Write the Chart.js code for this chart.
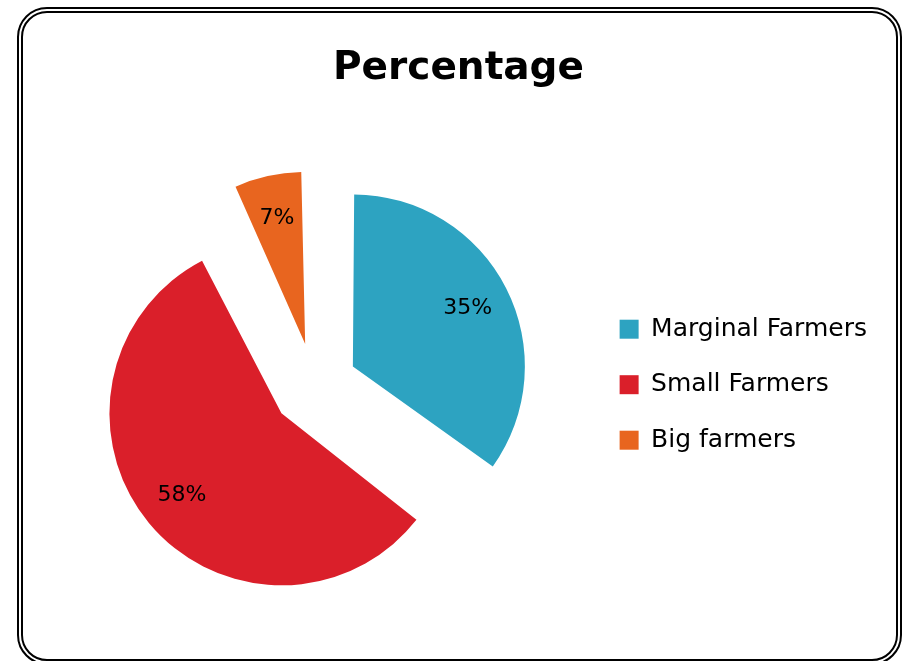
<!DOCTYPE html>
<html>
<head>
<meta charset="utf-8">
<script src="https://cdn.jsdelivr.net/npm/chart.js@4.4.0/dist/chart.umd.min.js"></script>
<style>
  html, body { margin: 0; padding: 0; background: #fff; }
  #wrap { position: relative; width: 904px; height: 661px; overflow: hidden; }
  #frame {
    position: absolute; left: 17px; top: 7px; width: 885px; height: 658px;
    box-sizing: border-box; border: 6px double #000; border-radius: 30px;
  }
  #box { position: absolute; left: 0; top: 0; width: 904px; height: 661px; }
</style>
</head>
<body>
<div id="wrap">
  <div id="frame"></div>
  <div id="box"><canvas id="chart-pie"></canvas></div>
</div>
<script>
var categories = ["Marginal Farmers", "Small Farmers", "Big farmers"];
var shares = [35, 58, 7];
var sliceColors = ["#2DA3C1", "#DA1F2A", "#E8651F"];

var RADIUS = 172;
var GAP = 43; // how far every slice is pulled out from the centre

// chart.js moves an arc by offset/4 but also grows its radius by offset/4 * fix,
// so take that growth back off before drawing
var keepRadius = {
  id: "keepRadius",
  beforeDatasetsDraw: function(chart) {
    chart.getDatasetMeta(0).data.forEach(function(arc) {
      var circ = arc.endAngle - arc.startAngle;
      var fix = 1 - Math.sin(Math.min(Math.PI, circ));
      arc.outerRadius = RADIUS - GAP * fix;
    });
  }
};

// percentage text drawn on each slice
var sliceLabels = {
  id: "sliceLabels",
  afterDatasetsDraw: function(chart) {
    var ctx = chart.ctx;
    var meta = chart.getDatasetMeta(0);
    ctx.save();
    ctx.font = "22px 'DejaVu Sans'";
    ctx.fillStyle = "#000";
    ctx.textAlign = "center";
    ctx.textBaseline = "middle";
    meta.data.forEach(function(arc, i) {
      var mid = (arc.startAngle + arc.endAngle) / 2;
      var r = GAP + RADIUS * 0.75;
      ctx.fillText(shares[i] + "%", arc.x + Math.cos(mid) * r, arc.y + Math.sin(mid) * r);
    });
    ctx.restore();
  }
};

var ctx_pie = document.getElementById("chart-pie").getContext("2d");

new Chart(ctx_pie, {
  type: "pie",
  data: {
    labels: categories,
    datasets: [{
      data: shares,
      backgroundColor: sliceColors,
      borderWidth: 0,
      offset: GAP * 4,
      radius: RADIUS
    }]
  },
  options: {
    responsive: true,
    maintainAspectRatio: false,
    animation: false,
    layout: {
      padding: { top: 20, bottom: 10, left: 40, right: 27 }
    },
    plugins: {
      title: {
        display: true,
        text: "Percentage",
        color: "#000",
        padding: { top: 25, bottom: 29 },
        font: { size: 39, weight: "bold", family: "DejaVu Sans", lineHeight: 1.2 }
      },
      legend: {
        position: "right",
        title: {
          display: true,
          text: " ",
          padding: { top: 0, bottom: 0 },
          font: { size: 82, lineHeight: 1.2 }
        },
        labels: {
          boxWidth: 19,
          boxHeight: 19,
          padding: 30.5,
          color: "#000",
          font: { size: 25, family: "DejaVu Sans" }
        }
      },
      tooltip: { enabled: false }
    }
  },
  plugins: [keepRadius, sliceLabels]
});
</script>
</body>
</html>
